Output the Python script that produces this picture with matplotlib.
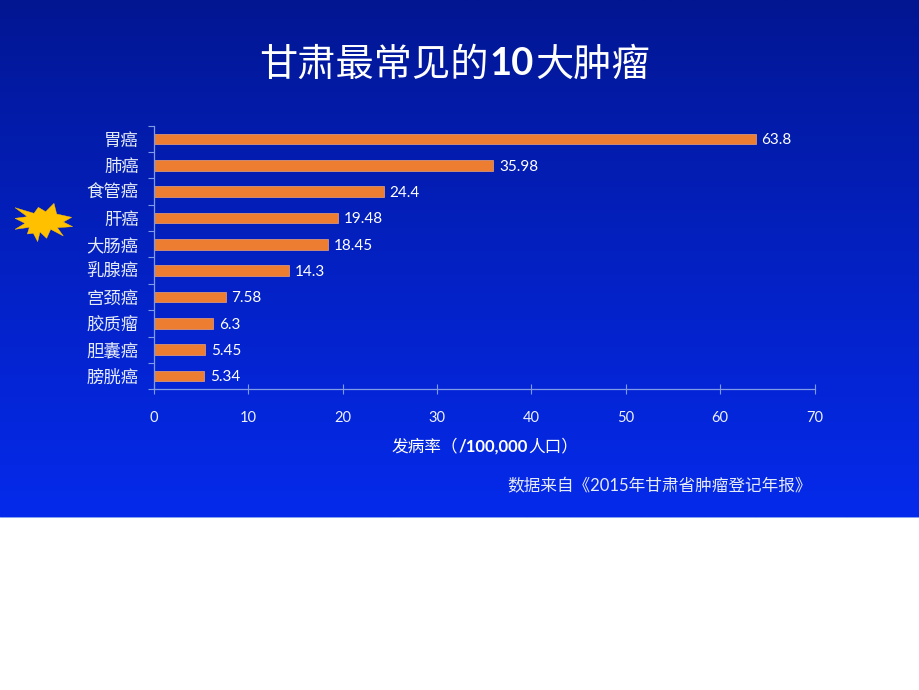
import numpy as np
import matplotlib
matplotlib.use("Agg")
import matplotlib.pyplot as plt
from matplotlib.patches import Polygon

categories = ["胃癌", "肺癌", "食管癌", "肝癌", "大肠癌", "乳腺癌", "宫颈癌", "胶质瘤", "胆囊癌", "膀胱癌"]
values = [63.8, 35.98, 24.4, 19.48, 18.45, 14.3, 7.58, 6.3, 5.45, 5.34]
value_labels = ["63.8", "35.98", "24.4", "19.48", "18.45", "14.3", "7.58", "6.3", "5.45", "5.34"]
x_ticks = [0, 10, 20, 30, 40, 50, 60, 70]

FONT = ["Lato", "Noto Sans CJK SC", "DejaVu Sans"]
plt.rcParams["font.family"] = FONT
W, H = 920, 690
fig = plt.figure(figsize=(W / 100, H / 100), dpi=100, facecolor="white")

# full-figure pixel layer for background, star
bg = fig.add_axes([0, 0, 1, 1], zorder=0)
bg.axis("off")
top = np.array([2, 22, 145]) / 255
bot = np.array([5, 42, 235]) / 255
t = np.linspace(0, 1, 256)[:, None, None]
grad = top + (bot - top) * t ** 0.9
bg.imshow(grad, extent=[0, W, 517, 0], aspect="auto", interpolation="bilinear", zorder=1)
bg.set_xlim(0, W)
bg.set_ylim(H, 0)
bg.plot([0, W], [517, 517], color="#6f8ff0", lw=0.6, zorder=2)

star_zoom = [(45, 293), (102, 310), (115, 292), (137, 305), (162, 280), (170, 312),
             (215, 322), (190, 336), (218, 350), (172, 353), (190, 378), (152, 358),
             (140, 385), (120, 366), (113, 395), (100, 370), (82, 372), (88, 352),
             (45, 358), (75, 340), (45, 325), (82, 320)]
star = [(x / 3, 110 + y / 3) for x, y in star_zoom]
bg.add_patch(Polygon(star, closed=True, fc="#FFC000", ec="#FFC000", lw=0.3, zorder=3))

# chart
x0, x1, y0, y1 = 154, 814.5, 125.8, 389.2
ax = fig.add_axes([x0 / W, 1 - y1 / H, (x1 - x0) / W, (y1 - y0) / H], zorder=2)
ax.patch.set_alpha(0)
pos = np.arange(len(categories))
ax.barh(pos, values, height=0.41, color="#ED7D31", edgecolor="#e9a27a", linewidth=0.5)
ax.set_xlim(0, 70)
ax.set_ylim(len(categories) - 0.5, -0.5)
for s in ("top", "right"):
    ax.spines[s].set_visible(False)
for s in ("left", "bottom"):
    ax.spines[s].set_color("#7f9be8")
    ax.spines[s].set_linewidth(0.9)
ax.set_xticks(x_ticks)
ax.set_xticklabels([str(v) for v in x_ticks], fontsize=10.5, color="#eef2fb")
ax.tick_params(axis="x", direction="inout", length=7, width=0.8, color="#7f9be8", pad=12)
ax.set_yticks(pos)
ax.set_yticklabels(categories, fontsize=12.5, color="#e6ebf8")
ax.tick_params(axis="y", which="major", length=0, pad=11)
ax.set_yticks(np.arange(-0.5, len(categories)), minor=True)
ax.tick_params(axis="y", which="minor", direction="out", length=4, width=0.8, color="#7f9be8")
for p, v, lab in zip(pos, values, value_labels):
    ax.annotate(lab, (v, p), xytext=(4, -1), textcoords="offset points", va="center",
                ha="left", fontsize=11, color="white", annotation_clip=False)

# text
fig.canvas.draw()
r = fig.canvas.get_renderer()
def run(parts, x, y, size, gap=0.0):
    """Lay out mixed-weight text pieces left to right from pixel x, centred on pixel y."""
    for s, w in parts:
        tx = fig.text(x / W, 1 - y / H, s, fontsize=size, fontweight=w, color="white",
                      ha="left", va="center_baseline", zorder=5)
        x += tx.get_window_extent(r).width + size * gap

run([("甘肃最常见的", "normal"), ("10", "bold"), ("大肿瘤", "normal")], 259, 61, 27.5, 0.04)
run([("发病率（", "normal"), ("/100,000", "bold"), ("人口）", "normal")], 392, 445, 12)
fig.text(812 / W, 1 - 485 / H, "数据来自《2015年甘肃省肿瘤登记年报》", fontsize=12,
         color="#e6ebf8", ha="right", va="center_baseline", zorder=5)

fig.savefig("out.png", dpi=100, facecolor="white")
